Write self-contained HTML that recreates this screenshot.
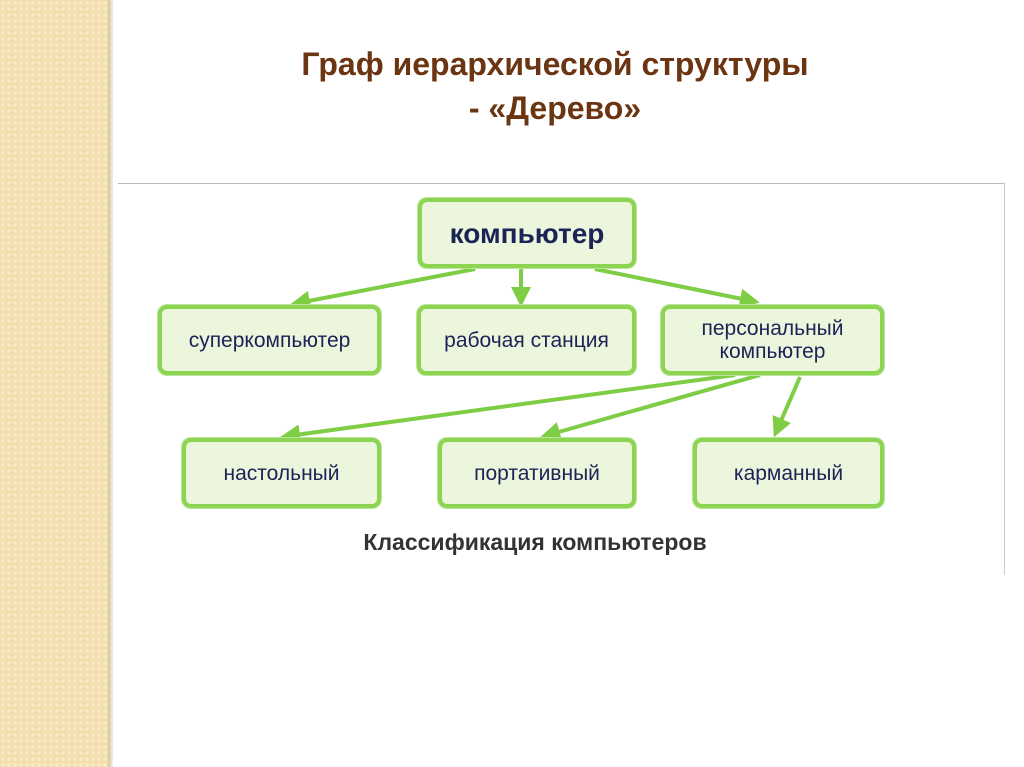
<!DOCTYPE html>
<html><head><meta charset="utf-8"><style>
body{margin:0;width:1024px;height:767px;background:#fff;position:relative;overflow:hidden;font-family:"Liberation Sans","DejaVu Sans",sans-serif}
.side{position:absolute;left:0;top:0;width:108px;height:767px;background-color:#f3dfae;background-image:radial-gradient(circle,#f8ebc6 1.5px,transparent 2px);background-size:6px 6px}
.edge{position:absolute;left:108px;top:0;width:5px;height:767px;background:linear-gradient(90deg,#d9c594,#eee)}
.t{position:absolute;left:150px;width:810px;text-align:center;color:#6b3512;font-weight:bold;font-size:32px}
.box{position:absolute;box-sizing:border-box;border:4px solid #8ed453;border-radius:9px;background:#ebf6dc;color:#1c2356;display:flex;align-items:center;justify-content:center;text-align:center;font-size:21px;line-height:23px;box-shadow:0 0 0 1px #b8e59a}
</style></head><body>
<div class="side"></div><div class="edge"></div>
<div class="t" style="top:46px">Граф иерархической структуры</div>
<div class="t" style="top:90px">- «Дерево»</div>
<div style="position:absolute;left:118px;top:183px;width:886px;height:1px;background:#bbb"></div>
<div style="position:absolute;left:1004px;top:183px;width:1px;height:392px;background:#ccc"></div>
<svg style="position:absolute;left:0;top:0" width="1024" height="767">
<defs><marker id="a" markerWidth="5" markerHeight="5" refX="3" refY="2.5" orient="auto"><path d="M0,0L5,2.5L0,5z" fill="#7fcc45"/></marker></defs>
<g stroke="#7fcc45" stroke-width="4" marker-end="url(#a)">
<line x1="475" y1="269" x2="298" y2="303"/>
<line x1="521" y1="269" x2="521" y2="299"/>
<line x1="595" y1="269" x2="752" y2="301"/>
<line x1="735" y1="375" x2="288" y2="436"/>
<line x1="760" y1="375" x2="548" y2="435"/>
<line x1="800" y1="377" x2="777" y2="430"/>
</g></svg>
<div class="box" style="left:418px;top:198px;width:218px;height:70px;font-size:28px;font-weight:bold">компьютер</div>
<div class="box" style="left:158px;top:305px;width:223px;height:70px">суперкомпьютер</div>
<div class="box" style="left:417px;top:305px;width:219px;height:70px">рабочая станция</div>
<div class="box" style="left:661px;top:305px;width:223px;height:70px">персональный<br>компьютер</div>
<div class="box" style="left:182px;top:438px;width:199px;height:70px">настольный</div>
<div class="box" style="left:438px;top:438px;width:198px;height:70px">портативный</div>
<div class="box" style="left:693px;top:438px;width:191px;height:70px">карманный</div>
<div style="position:absolute;left:285px;width:500px;top:529px;text-align:center;font-weight:bold;font-size:23px;color:#333">Классификация компьютеров</div>
</body></html>
